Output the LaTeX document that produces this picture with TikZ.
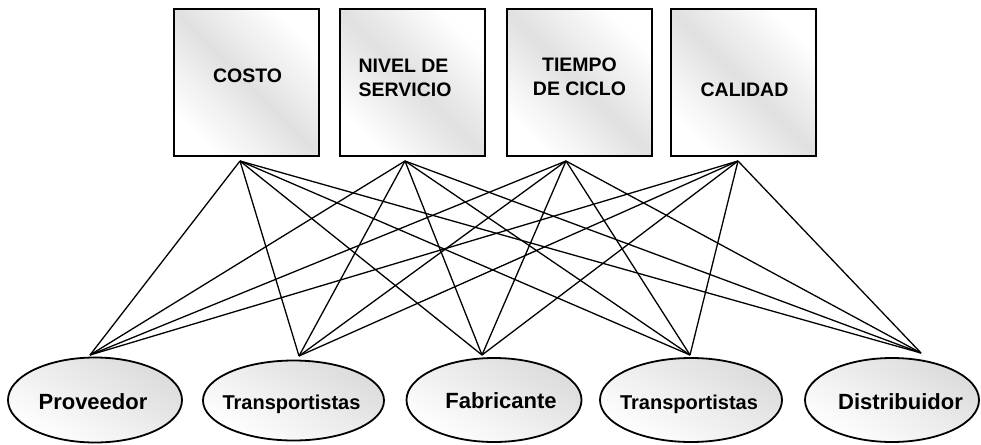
\documentclass[tikz,border=0pt]{standalone}
\usepackage{fontspec}
\setmainfont{Liberation Sans}
\usetikzlibrary{shapes.geometric}
\begin{document}
\begin{tikzpicture}[x=1pt,y=-1pt,
  crit/.style={draw=black, line width=2pt, minimum width=145pt, minimum height=147pt,
    inner sep=0pt, left color=white, right color=white, middle color=gray!24, shading angle=135},
  ent/.style={ellipse, draw=black, line width=1.8pt, inner sep=0pt,
    top color=gray!28, bottom color=white, shading angle=-30},
  toplab/.style={font=\bfseries\fontsize{19.5}{24}\selectfont, inner sep=0pt},
  botlab/.style={font=\bfseries\fontsize{22}{26}\selectfont, inner sep=0pt, anchor=base},
  tralab/.style={font=\bfseries\fontsize{20}{24}\selectfont, inner sep=0pt, anchor=base},
  link/.style={line width=1.3pt, black}]
\useasboundingbox (0,0) rectangle (981,444);
% criteria boxes
\node[crit] (costo) at (246.75,82.5) {};
\node[crit] (nivel) at (412.5,82.5) {};
\node[crit] (tiempo) at (579,82.5) {};
\node[crit] (calidad) at (743.5,82.5) {};
\node[toplab] (tcosto) at (247.5,76) {COSTO};
\node[toplab, align=left] (tnivel) at (405,78) {NIVEL DE\\SERVICIO};
\node[toplab, align=center] (ttiempo) at (579.5,77) {TIEMPO\\DE CICLO};
\node[toplab] (tcalidad) at (744.5,89.5) {CALIDAD};
% entities
\node[ent, minimum width=174pt, minimum height=85pt] (prov) at (95,400) {};
\node[ent, minimum width=181pt, minimum height=80pt] (trans1) at (293.5,400.5) {};
\node[ent, minimum width=175pt, minimum height=84pt] (fab) at (494,400) {};
\node[ent, minimum width=182pt, minimum height=84pt] (trans2) at (691,400) {};
\node[ent, minimum width=174pt, minimum height=84pt] (dist) at (892,400) {};
\node[botlab] (lprov) at (93,409) {Proveedor};
\node[tralab] (ltrans1) at (291.5,409.5) {Transportistas};
\node[botlab] (lfab) at (501,408.5) {Fabricante};
\node[tralab] (ltrans2) at (689,409) {Transportistas};
\node[botlab] (ldist) at (900.5,409) {Distribuidor};
% connection points
\coordinate (a1) at (240,161);
\coordinate (a2) at (405,161);
\coordinate (a3) at (566,161);
\coordinate (a4) at (738,161);
\coordinate (b1) at (90,355);
\coordinate (b2) at (299,356);
\coordinate (b3) at (482,355);
\coordinate (b4) at (690,355);
\coordinate (b5) at (921,353);
\foreach \a in {a1,a2,a3,a4}{
  \foreach \b in {b1,b2,b3,b4,b5}{
    \draw[link] (\a) -- (\b);
  }
}
\end{tikzpicture}
\end{document}
